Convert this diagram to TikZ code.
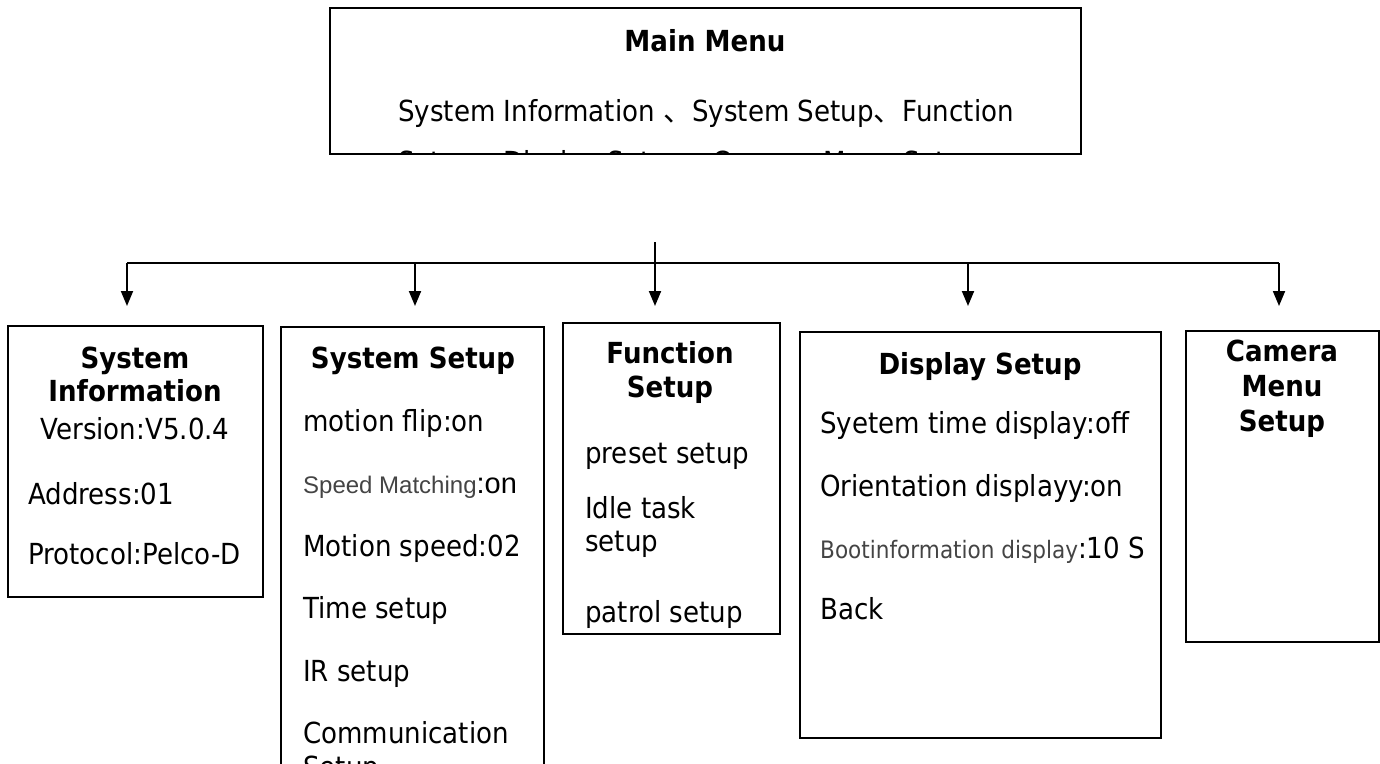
\documentclass[tikz,border=0pt]{standalone}
\usepackage{fontspec}
\setmainfont{DejaVu Sans}[FakeStretch=0.9]
\newfontfamily\arialf{Liberation Sans}
\newfontfamily\cjkf{Noto Sans CJK SC}
\usetikzlibrary{arrows.meta}
\tikzset{
  boxs/.style={draw, line width=1.9pt, inner sep=0pt, anchor=north west},
  ttl/.style={font=\bfseries\fontsize{29}{33}\selectfont, inner sep=0pt, anchor=base},
  itm/.style={font=\fontsize{29}{33}\selectfont, inner sep=0pt, anchor=base west},
  conn/.style={line width=1.9pt, -{Triangle[length=15pt,width=12pt]}},
  bus/.style={line width=1.9pt},
}
\newcommand{\sgrey}[1]{{\color[HTML]{444444}\fontsize{24}{28}\selectfont #1}}
\begin{document}
\begin{tikzpicture}[x=1pt,y=-1pt]
\useasboundingbox (0,0) rectangle (1380,763);
% boxes
\node[boxs, minimum width=751pt, minimum height=146pt] (mainbox) at (329,7) {};
\node[boxs, minimum width=255pt, minimum height=271pt] (infobox) at (7,325) {};
\node[boxs, minimum width=263pt, minimum height=450pt] (sysbox) at (280,326) {};
\node[boxs, minimum width=217pt, minimum height=311pt] (funcbox) at (562,322) {};
\node[boxs, minimum width=361pt, minimum height=406pt] (dispbox) at (799,331) {};
\node[boxs, minimum width=193pt, minimum height=311pt] (cambox) at (1185,330) {};
% main menu texts
\node[ttl] (mmt) at (705,51) {Main Menu};
\begin{scope}
\clip (329,7) rectangle (1080,153);
\node[itm] (mm1) at (398,121) {System Information {\cjkf 、}System Setup{\cjkf 、}Function};
\node[itm] (mm2) at (398,172) {Setup{\cjkf 、}Display Setup{\cjkf 、}Camera Menu Setup};
\end{scope}
% connectors
\coordinate (ctop) at (655,242);
\coordinate (ctip) at (655,306);
\coordinate (bl) at (127,263);
\coordinate (br) at (1279,263);
\coordinate (b2) at (415,263);
\coordinate (b4) at (968,263);
\coordinate (t1) at (127,306);
\coordinate (t2) at (415,306);
\coordinate (t4) at (968,306);
\coordinate (t5) at (1279,306);
\draw[bus] (bl) -- (br);
\draw[conn] (ctop) -- (ctip);
\draw[conn] (bl) -- (t1);
\draw[conn] (b2) -- (t2);
\draw[conn] (b4) -- (t4);
\draw[conn] (br) -- (t5);
% system information
\node[ttl] (si1) at (135,368) {System};
\node[ttl] (si2) at (135,401) {Information};
\node[itm, anchor=base] (si3) at (135,439) {Version:V5.0.4};
\node[itm] (si4) at (28,504) {Address:01};
\node[itm] (si5) at (28,564) {Protocol:Pelco-D};
% system setup
\node[ttl] (ss0) at (413,368) {System Setup};
\node[itm] (ss1) at (303,431) {motion flip:on};
\node[itm] (ss2) at (303,493) {{\arialf\sgrey{Speed Matching}}{\arialf\fontsize{29}{33}\selectfont:on}};
\node[itm] (ss3) at (303,556) {Motion speed:02};
\node[itm] (ss4) at (303,618) {Time setup};
\node[itm] (ss5) at (303,681) {IR setup};
\node[itm] (ss6) at (303,743) {Communication};
\node[itm] (ss7) at (303,777) {Setup};
% function setup
\node[ttl] (fs1) at (670,363) {Function};
\node[ttl] (fs2) at (670,397) {Setup};
\node[itm] (fs3) at (585,463) {preset setup};
\node[itm] (fs4) at (585,518) {Idle task};
\node[itm] (fs5) at (585,551) {setup};
\node[itm] (fs6) at (585,622) {patrol setup};
% display setup
\node[ttl] (ds0) at (980,374) {Display Setup};
\node[itm] (ds1) at (820,433) {Syetem time display:off};
\node[itm] (ds2) at (820,496) {Orientation displayy:on};
\node[itm] (ds3) at (820,558) {\sgrey{Bootinformation display}{\fontsize{29}{33}\selectfont:10 S}};
\node[itm] (ds4) at (820,619) {Back};
% camera
\node[ttl] (cm1) at (1282,361) {Camera};
\node[ttl] (cm2) at (1282,396) {Menu};
\node[ttl] (cm3) at (1282,431) {Setup};
\end{tikzpicture}
\end{document}
